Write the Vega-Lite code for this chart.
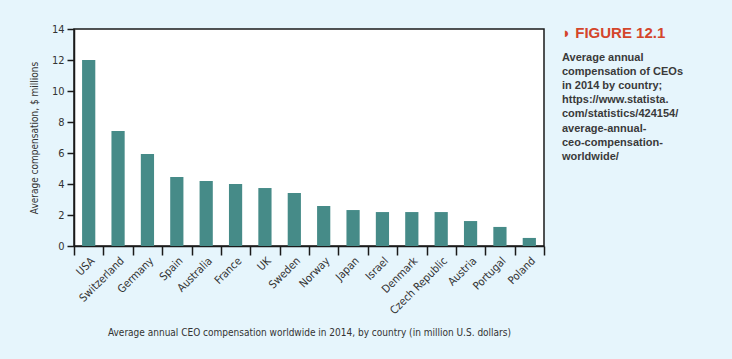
{
  "$schema": "https://vega.github.io/schema/vega-lite/v6.json",
  "autosize": {"type": "none"},
  "width": 470,
  "height": 217,
  "padding": {"left": 74, "top": 29, "right": 188, "bottom": 113},
  "background": "#E6F5FC",
  "title": {
    "text": "◗ FIGURE 12.1",
    "subtitle": ["Average annual", "compensation of CEOs", "in 2014 by country;", "https://www.statista.", "com/statistics/424154/", "average-annual-", "ceo-compensation-", "worldwide/"],
    "anchor": "start",
    "frame": "group",
    "orient": "top",
    "dx": 488,
    "dy": 143,
    "font": "Liberation Sans, DejaVu Sans",
    "fontSize": 15,
    "fontWeight": "bold",
    "color": "#D4452B",
    "subtitleFont": "Liberation Sans",
    "subtitleFontSize": 11,
    "subtitleFontWeight": "bold",
    "subtitleColor": "#3A3A3A",
    "subtitleLineHeight": 14.2,
    "subtitlePadding": 11
  },
  "config": {
    "view": {"stroke": "#1A1A1A", "strokeWidth": 1.5, "fill": "white"},
    "axis": {
      "domainColor": "#1A1A1A",
      "domainWidth": 1.5,
      "tickColor": "#1A1A1A",
      "tickWidth": 1.5,
      "labelFont": "Liberation Sans Narrow, DejaVu Sans Condensed, sans-serif",
      "titleFont": "Liberation Sans Narrow, DejaVu Sans Condensed, sans-serif",
      "labelFontSize": 11,
      "titleFontSize": 10,
      "titleFontWeight": "normal",
      "labelColor": "#333333",
      "titleColor": "#333333",
      "grid": false
    }
  },
  "data": {
    "values": [
      {"country": "USA", "value": 12.0},
      {"country": "Switzerland", "value": 7.42},
      {"country": "Germany", "value": 5.94},
      {"country": "Spain", "value": 4.45},
      {"country": "Australia", "value": 4.19},
      {"country": "France", "value": 4.0},
      {"country": "UK", "value": 3.74},
      {"country": "Sweden", "value": 3.42},
      {"country": "Norway", "value": 2.58},
      {"country": "Japan", "value": 2.32},
      {"country": "Israel", "value": 2.19},
      {"country": "Denmark", "value": 2.19},
      {"country": "Czech Republic", "value": 2.19},
      {"country": "Austria", "value": 1.61},
      {"country": "Portugal", "value": 1.23},
      {"country": "Poland", "value": 0.52}
    ]
  },
  "mark": {"type": "bar", "color": "#468B88", "width": {"band": 0.45}},
  "encoding": {
    "x": {
      "field": "country",
      "type": "nominal",
      "sort": null,
      "scale": {"padding": 0},
      "axis": {
        "title": "Average annual CEO compensation worldwide in 2014, by country (in million U.S. dollars)",
        "tickBand": "extent",
        "labelAngle": -45,
        "labelAlign": "right",
        "labelBaseline": "middle",
        "labelOffset": 4,
        "tickSize": 9,
        "labelPadding": 4,
        "titlePadding": 12
      }
    },
    "y": {
      "field": "value",
      "type": "quantitative",
      "scale": {"domain": [0, 14], "nice": false},
      "axis": {
        "title": "Average compensation, $ millions",
        "values": [0, 2, 4, 6, 8, 10, 12, 14],
        "tickSize": 7,
        "labelPadding": 3,
        "titlePadding": 12
      }
    }
  }
}
